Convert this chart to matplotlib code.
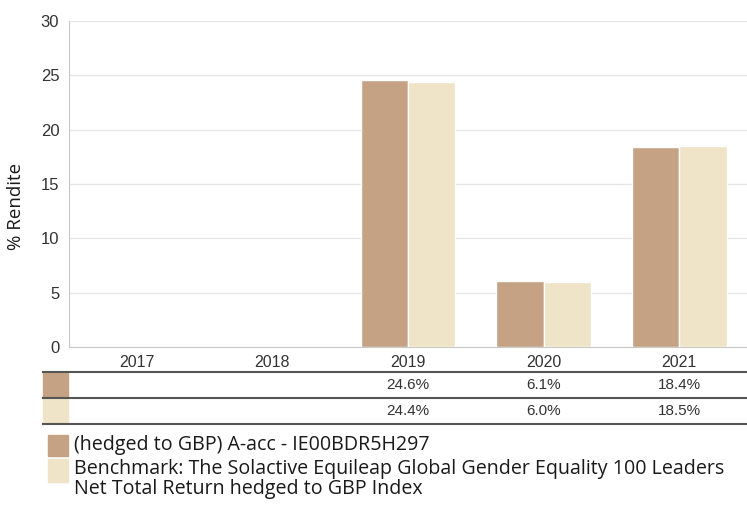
import numpy as np
import matplotlib
matplotlib.use("Agg")
import matplotlib.pyplot as plt
from matplotlib.patches import Rectangle

# data
years = ["2017", "2018", "2019", "2020", "2021"]
fund = [np.nan, np.nan, 24.6, 6.1, 18.4]
bench = [np.nan, np.nan, 24.4, 6.0, 18.5]
fund_lbl = ["", "", "24.6%", "6.1%", "18.4%"]
bench_lbl = ["", "", "24.4%", "6.0%", "18.5%"]
legend_fund = "(hedged to GBP) A-acc - IE00BDR5H297"
legend_bench = ("Benchmark: The Solactive Equileap Global Gender Equality 100 Leaders\n"
                "Net Total Return hedged to GBP Index")

c_fund = "#c4a283"
c_bench = "#efe3c8"
W, H = 747, 505

plt.rcParams["font.family"] = ["Liberation Sans", "DejaVu Sans"]
lf = ["Open Sans", "DejaVu Sans"]

fig = plt.figure(figsize=(W / 100, H / 100), dpi=100)
ax = fig.add_axes([69 / W, (H - 347) / H, 678 / W, 326 / H])

x = np.arange(len(years))
bw = 0.35
ax.bar(x - bw / 2, fund, bw, color=c_fund, edgecolor="white", linewidth=1, zorder=3)
ax.bar(x + bw / 2, bench, bw, color=c_bench, edgecolor="white", linewidth=1, zorder=3)

ax.set_xlim(-0.5, len(years) - 0.5)
ax.set_ylim(0, 30)
ax.set_yticks(range(0, 31, 5))
ax.set_xticks(x)
ax.set_xticklabels(years)
ax.tick_params(length=0, labelsize=11.5, colors="#333333")
ax.tick_params(axis="y", labelsize=12, pad=7)
ax.tick_params(axis="x", pad=6)
ax.grid(axis="y", color="#e6e6e6", linewidth=1, zorder=0)
for s in ["top", "right"]:
    ax.spines[s].set_visible(False)
ax.spines["left"].set_color("#c8c8c8")
ax.spines["bottom"].set_color("#c8c8c8")
ax.set_ylabel("% Rendite", fontsize=13.5, color="#1a1a1a", family=lf)
ax.yaxis.set_label_coords(-44 / 678, (347 - 206) / 326)

# table under the chart
tax = fig.add_axes([69 / W, (H - 424) / H, 678 / W, 52 / H], sharex=ax)
tax.set_ylim(2, 0)
tax.axis("off")
x0 = -0.5 - 26 / 135.6
for r in [0, 1, 2]:
    tax.plot([x0, len(years) - 0.5], [r, r], color="#555555", linewidth=1.5, clip_on=False)
for i, (col, labels) in enumerate([(c_fund, fund_lbl), (c_bench, bench_lbl)]):
    tax.add_patch(Rectangle((x0, i + 0.03), 25 / 135.6, 0.94, color=col, clip_on=False))
    for xi, t in zip(x, labels):
        tax.text(xi, i + 0.5, t, ha="center", va="center", fontsize=11, color="#333333")

# legend
fig.add_artist(Rectangle((48 / W, (H - 456) / H), 20 / W, 21 / H, color=c_fund,
                         transform=fig.transFigure))
fig.add_artist(Rectangle((48 / W, (H - 482) / H), 20 / W, 23 / H, color=c_bench,
                         transform=fig.transFigure))
fig.text(74 / W, (H - 445) / H, legend_fund, family=lf, fontsize=14.1,
         va="center", ha="left", color="#1a1a1a")
fig.text(74 / W, (H - 459) / H, legend_bench, family=lf, fontsize=14.1,
         va="top", ha="left", color="#1a1a1a", linespacing=1.0)

fig.savefig("out.png", dpi=100)
